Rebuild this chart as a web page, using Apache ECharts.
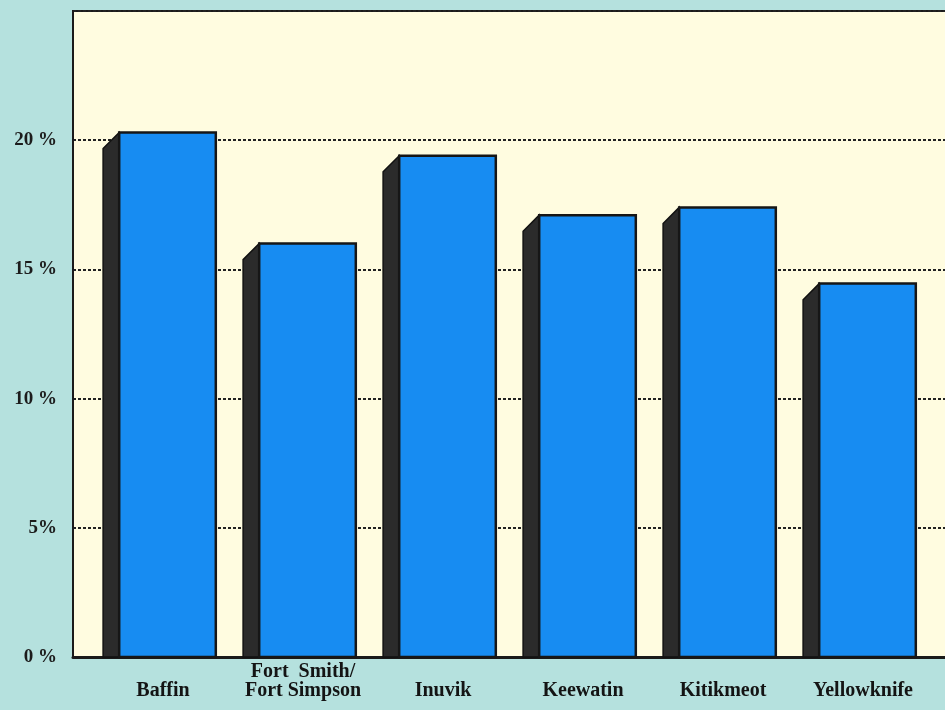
<!DOCTYPE html>
<html>
<head>
<meta charset="utf-8">
<script src="https://cdn.jsdelivr.net/npm/echarts@6/dist/echarts.min.js"></script>
<style>
  html, body { margin: 0; padding: 0; background: #b5e1de; }
  #chart { width: 945px; height: 710px; }
</style>
</head>
<body>
<div id="chart"></div>
<script>
// Data
const categories = ['Baffin', 'Fort  Smith/\nFort Simpson', 'Inuvik', 'Keewatin', 'Kitikmeot', 'Yellowknife', ''];
const values = [20.3, 16.0, 19.4, 17.1, 17.4, 14.45];
const yTickLabels = ['0 %', '5%', '10 %', '15 %', '20 %', ''];

const chart = echarts.init(document.getElementById('chart'));

const barData = values.map((v, i) => [i, v]);

chart.setOption({
  backgroundColor: '#b5e1de',
  animation: false,
  grid: {
    left: 73, top: 11, width: 980, height: 646,
    outerBoundsMode: 'none',
    containLabel: false,
    show: true, backgroundColor: '#fffce0', borderColor: '#1a1a1a', borderWidth: 2
  },
  xAxis: {
    type: 'category',
    data: categories,
    boundaryGap: true,
    axisLine: { show: true, lineStyle: { color: '#1a1a1a', width: 3 } },
    axisTick: { show: false },
    splitLine: { show: false },
    axisLabel: {
      interval: 0,
      margin: 43,
      verticalAlign: 'bottom',
      padding: [0, 0, 0, 40],
      fontFamily: '"Liberation Serif", "DejaVu Serif", serif',
      fontWeight: 'bold',
      fontSize: 20,
      lineHeight: 19,
      color: '#141414'
    }
  },
  yAxis: {
    type: 'value',
    min: 0, max: 25, interval: 5,
    axisLine: { show: true, lineStyle: { color: '#1a1a1a', width: 2 } },
    axisTick: { show: false },
    splitLine: { show: true, lineStyle: { color: '#222', width: 2, type: [3, 2] } },
    axisLabel: {
      margin: 16,
      fontFamily: '"Liberation Serif", "DejaVu Serif", serif',
      fontWeight: 'bold',
      fontSize: 19,
      color: '#1c1c1c',
      formatter: function (v) { return yTickLabels[Math.round(v / 5)]; }
    }
  },
  series: [{
    type: 'custom',
    data: barData,
    encode: { x: 0, y: 1 },
    renderItem: function (params, api) {
      const idx = api.value(0), v = api.value(1);
      const top = api.coord([idx, v]);
      const base = api.coord([idx, 0]);
      const band = api.size([1, 0])[0];
      const fw = band * 0.69;
      const fx = top[0] - band * 0.17;
      const d = band * 0.115;
      return {
        type: 'group',
        children: [
          {
            type: 'polygon',
            shape: { points: [[fx, top[1]], [fx - d, top[1] + d], [fx - d, base[1]], [fx, base[1]]] },
            style: { fill: '#2b2b2b', stroke: '#111', lineWidth: 1.5 }
          },
          {
            type: 'rect',
            shape: { x: fx, y: top[1], width: fw, height: base[1] - top[1] },
            style: { fill: '#178cf2', stroke: '#161616', lineWidth: 2.5 }
          }
        ]
      };
    }
  }]
});
</script>
</body>
</html>
